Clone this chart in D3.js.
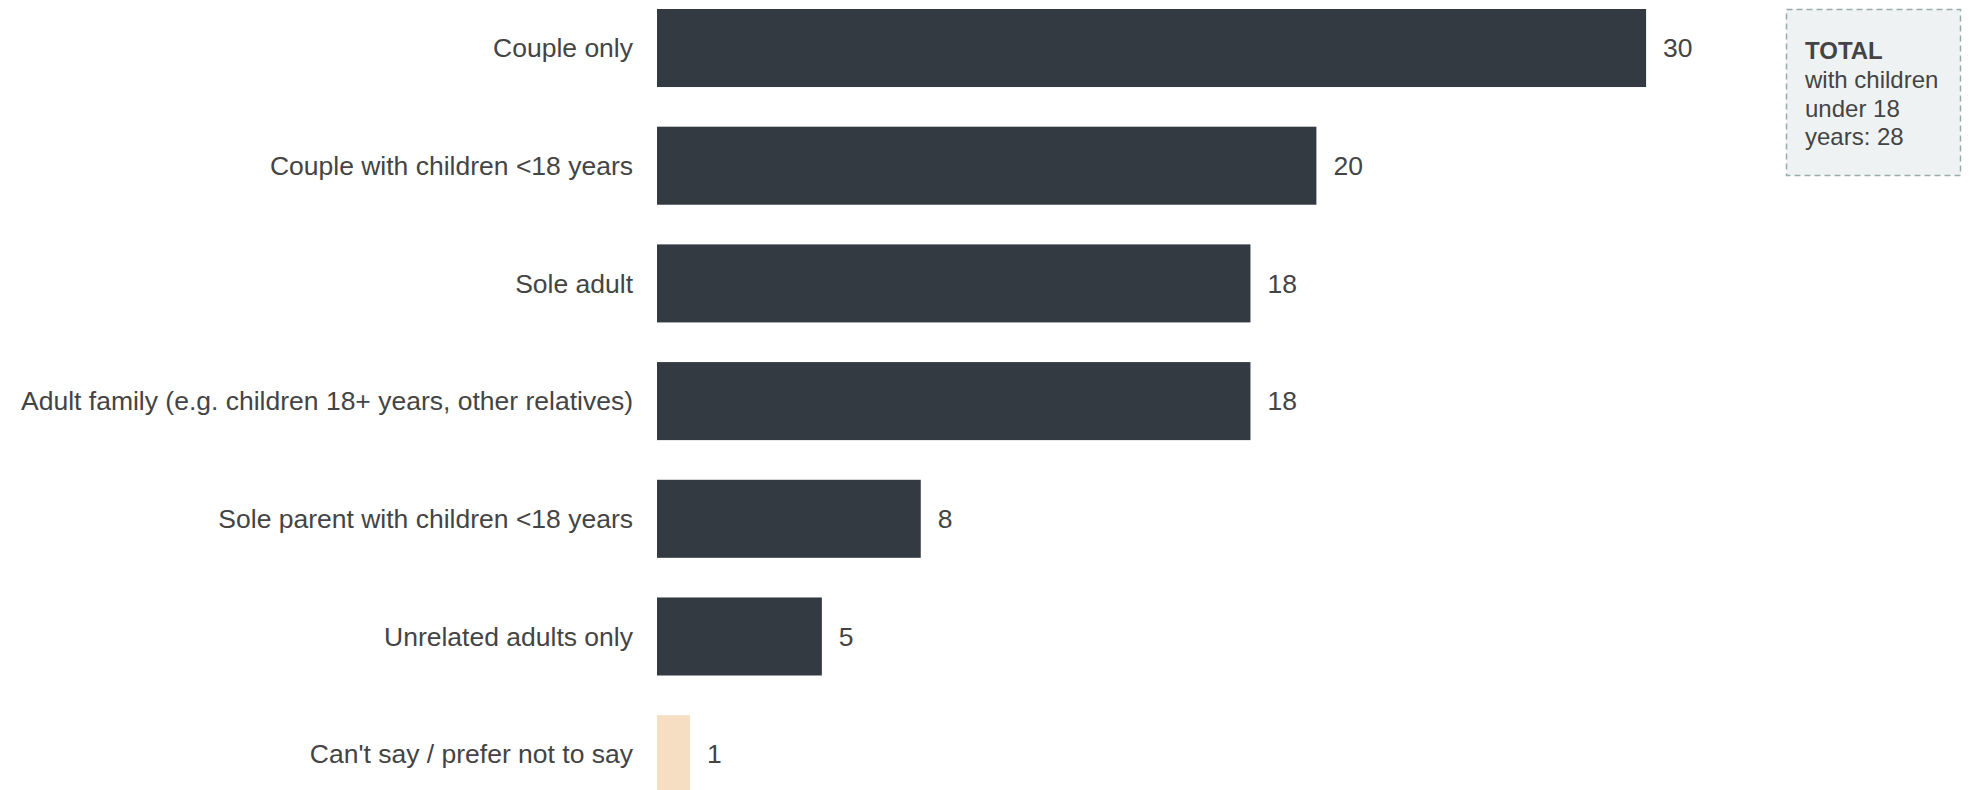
<!DOCTYPE html>
<html>
<head>
<meta charset="utf-8">
<script src="https://cdn.jsdelivr.net/npm/d3@7"></script>
<style>
  body { margin: 0; background: #fff; }
  svg { display: block; font-family: "Liberation Sans", Arial, sans-serif; }
</style>
</head>
<body>
<script>
const categories = [
    "Couple only",
    "Couple with children <18 years",
    "Sole adult",
    "Adult family (e.g. children 18+ years, other relatives)",
    "Sole parent with children <18 years",
    "Unrelated adults only",
    "Can't say / prefer not to say"
];
const values = [30, 20, 18, 18, 8, 5, 1];
const highlight = [false, false, false, false, false, false, true];
const noteLines = ["TOTAL", "with children", "under 18", "years: 28"];

const width = 1970, height = 790;
const barLeft = 657;
const pxPerUnit = 32.97;

const data = categories.map((c, i) => ({ label: c, value: values[i], muted: highlight[i] }));

const svg = d3.select("body").append("svg")
    .attr("width", width)
    .attr("height", height);

// scales
const x = d3.scaleLinear()
    .domain([0, 30])
    .range([barLeft, barLeft + 30 * pxPerUnit]);

const y = d3.scaleBand()
    .domain(categories)
    .range([9, 793.2])
    .paddingInner(0.337)
    .paddingOuter(0);

svg.selectAll("rect.bar")
    .data(data)
    .enter()
    .append("rect")
    .attr("class", "bar")
    .attr("x", x(0))
    .attr("y", d => y(d.label))
    .attr("width", d => x(d.value) - x(0))
    .attr("height", y.bandwidth())
    .attr("fill", d => d.muted ? "#f5dec1" : "#343a42");

// category labels
svg.selectAll("text.cat")
    .data(data)
    .enter()
    .append("text")
    .attr("class", "cat")
    .attr("x", x(0) - 24)
    .attr("y", d => y(d.label) + y.bandwidth() / 2)
    .attr("dy", "0.35em")
    .attr("text-anchor", "end")
    .style("font-size", "26.5px")
    .style("fill", "#444")
    .text(d => d.label);

// value labels
svg.selectAll("text.val")
    .data(data)
    .enter()
    .append("text")
    .attr("class", "val")
    .attr("x", d => x(d.value) + 17)
    .attr("y", d => y(d.label) + y.bandwidth() / 2)
    .attr("dy", "0.35em")
    .style("font-size", "26.5px")
    .style("fill", "#444")
    .text(d => d.value);

// TOTAL note box
const note = svg.append("g").attr("transform", "translate(1786, 9)");
note.append("rect")
    .attr("x", 0.5)
    .attr("y", 0.5)
    .attr("width", 174)
    .attr("height", 166)
    .attr("fill", "#eff2f3")
    .attr("stroke", "#9aabab")
    .attr("stroke-width", 1.5)
    .attr("stroke-dasharray", "6,4");

note.selectAll("text")
    .data(noteLines)
    .enter()
    .append("text")
    .attr("x", 19)
    .attr("y", (d, i) => 50 + i * 28.8)
    .style("font-size", "24px")
    .style("font-weight", (d, i) => i === 0 ? "bold" : "normal")
    .style("fill", "#444")
    .text(d => d);
</script>
</body>
</html>
